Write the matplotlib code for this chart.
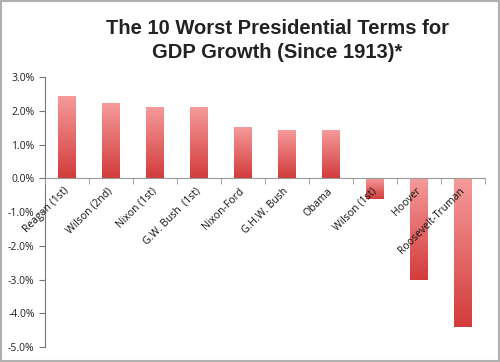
import numpy as np
import matplotlib.pyplot as plt
from matplotlib.colors import LinearSegmentedColormap
from matplotlib.ticker import FuncFormatter

terms = ["Reagan (1st)", "Wilson (2nd)", "Nixon (1st)", "G.W. Bush  (1st)", "Nixon-Ford",
         "G.H.W. Bush", "Obama", "Wilson (1st)", "Hoover", "Roosevelt-Truman"]
growth = [2.4, 2.2, 2.1, 2.1, 1.5, 1.4, 1.4, -0.6, -3.0, -4.4]
yticks = [3, 2, 1, 0, -1, -2, -3, -4, -5]

fig = plt.figure(figsize=(5, 3.62), dpi=100)
ax = fig.add_axes([0.09, 0.041, 0.88, 0.746])
ax.set_axisbelow(False)

x = np.arange(len(terms))
bars = ax.bar(x, growth, width=0.4, color="none", edgecolor="none")

# vertical gradient, light top to darker bottom
cmap = LinearSegmentedColormap.from_list("redfade", ["#f69a9a", "#d23c3c"])
grad = np.linspace(0, 1, 100).reshape(-1, 1)
for b in bars:
    x0, w = b.get_x(), b.get_width()
    y0, h = b.get_y(), b.get_height()
    ylo, yhi = min(y0, y0 + h), max(y0, y0 + h)
    ax.imshow(grad, cmap=cmap, aspect="auto", extent=(x0, x0 + w, ylo, yhi),
              origin="upper", zorder=2)

ax.set_xlim(-0.5, len(terms) - 0.5)
ax.set_ylim(-5, 3)
ax.set_yticks(yticks)
ax.yaxis.set_major_formatter(FuncFormatter(lambda v, p: "%.1f%%" % v))

ax.spines["top"].set_visible(False)
ax.spines["right"].set_visible(False)
ax.spines["bottom"].set_position(("data", 0))
ax.spines["bottom"].set_color("#999999")
ax.spines["left"].set_color("#777777")

ax.set_xticks(x)
ax.set_xticks(np.arange(len(terms) + 1) - 0.5, minor=True)
ax.set_xticklabels(terms, rotation=45, ha="right", va="center", rotation_mode="anchor",
                   fontsize=7.5, family="Open Sans", color="#111111")
ax.tick_params(axis="x", which="major", length=0, pad=8)
ax.tick_params(axis="x", which="minor", length=4, color="#999999", direction="out")
ax.tick_params(axis="y", length=4, color="#777777", labelsize=7.5, labelcolor="#222222")
for lab in ax.get_yticklabels():
    lab.set_family("Open Sans")

fig.text(0.554, 0.888, "The 10 Worst Presidential Terms for\nGDP Growth (Since 1913)*",
         ha="center", va="center", fontsize=14.5, fontweight="bold",
         family="Liberation Sans", color="#222222", linespacing=1.3)

# outer frame
fig.patches.append(plt.Rectangle((0.002, 0.003), 0.996, 0.994, transform=fig.transFigure,
                                 fill=False, edgecolor="#b0b0b0", linewidth=1.5))

fig.savefig("out.png")
